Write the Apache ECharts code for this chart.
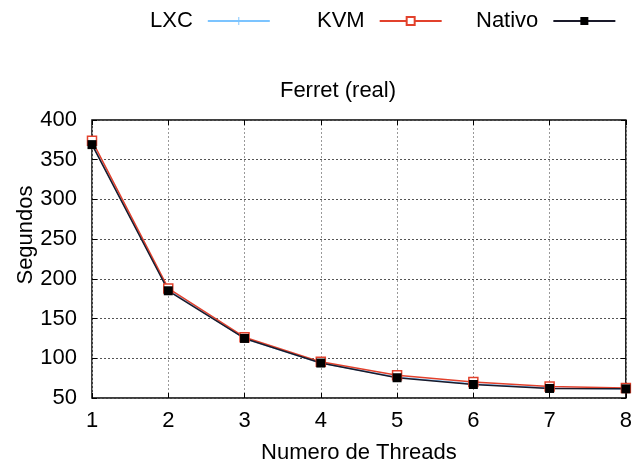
<!DOCTYPE html>
<html>
<head>
<meta charset="utf-8">
<style>
  html, body { margin: 0; padding: 0; background: #fff; }
  #chart { width: 635px; height: 469px; }
</style>
<script src="https://cdn.jsdelivr.net/npm/echarts@6/dist/echarts.min.js"></script>
</head>
<body>
<div id="chart"></div>
<script>
// Ferret benchmark runtime (seconds) by number of threads
const threads = [1, 2, 3, 4, 5, 6, 7, 8];
const lxc    = [370, 186, 125, 94, 76, 67.5, 62.5, 61.5];
const kvm    = [374, 188, 126.5, 95.5, 78.5, 70, 64.5, 62.5];
const nativo = [369, 185, 125, 94, 75.5, 67, 62, 61.5];
const yTicks = { min: 50, max: 400, step: 50 };
const seriesNames = ['LXC', 'KVM', 'Nativo'];

const FONT = 'Liberation Sans, Arial, Helvetica, sans-serif';
const plus = 'path://M4.4,0H5.6V4.4H10V5.6H5.6V10H4.4V5.6H0V4.4H4.4Z';

const pairs = vals => threads.map((t, i) => [t, vals[i]]);

const chart = echarts.init(document.getElementById('chart'), null, { renderer: 'canvas' });

const axisCommon = {
  axisLine: { show: false },
  axisTick: { show: true, inside: true, length: 5, lineStyle: { color: '#000', width: 1 } },
  splitLine: { show: false }
};

// one legend block per series, laid out in fixed columns
const legendLefts = [150, 317, 476];
const legends = seriesNames.map((name, i) => ({
  top: 10, left: legendLefts[i], padding: 0,
  align: 'right',
  itemWidth: 62, itemHeight: 10,
  textStyle: { fontFamily: FONT, fontSize: 22, color: '#000', padding: [0, 10, 0, 0] },
  data: [name]
}));

chart.setOption({
  animation: false,
  backgroundColor: '#fff',
  title: {
    text: 'Ferret (real)',
    left: 333, top: 75, textAlign: 'center',
    textStyle: { fontFamily: FONT, fontSize: 22, fontWeight: 'normal', color: '#000' }
  },
  legend: legends,
  grid: {
    left: 92, right: 3, top: 120, bottom: 70,
    show: true, borderColor: '#000', borderWidth: 1.5, backgroundColor: 'transparent'
  },
  xAxis: [{
    type: 'value', min: 1, max: 8, interval: 1,
    name: 'Numero de Threads', nameLocation: 'middle', nameGap: 44,
    nameTextStyle: { fontFamily: FONT, fontSize: 22, color: '#000' },
    axisLabel: { fontFamily: FONT, fontSize: 22, color: '#000', margin: 12 },
    axisLine: { show: false },
    axisTick: { show: true, inside: true, length: 5, lineStyle: { color: '#000' } },
    splitLine: { show: true, lineStyle: { type: [2, 2], color: '#999', width: 1 } }
  }, Object.assign({
    type: 'value', min: 1, max: 8, interval: 1, position: 'top',
    axisLabel: { show: false }
  }, axisCommon)],
  yAxis: [{
    type: 'value', min: yTicks.min, max: yTicks.max, interval: yTicks.step,
    axisLabel: { fontFamily: FONT, fontSize: 22, color: '#000', margin: 15 },
    axisLine: { show: false },
    axisTick: { show: true, inside: true, length: 5, lineStyle: { color: '#000' } },
    splitLine: { show: true, lineStyle: { type: [2, 2], color: '#555', width: 1 } }
  }, Object.assign({
    type: 'value', min: yTicks.min, max: yTicks.max, interval: yTicks.step, position: 'right',
    axisLabel: { show: false }
  }, axisCommon)],
  graphic: [{
    type: 'text',
    x: 26, y: 235, rotation: Math.PI / 2,
    style: {
      text: 'Segundos', fontFamily: FONT, fontSize: 22, fill: '#000',
      align: 'center', verticalAlign: 'middle'
    }
  }],
  series: [
    {
      name: 'LXC', type: 'line', data: pairs(lxc),
      symbol: plus, symbolSize: 8,
      lineStyle: { color: '#7cc4ff', width: 1.5 },
      itemStyle: { color: '#7cc4ff' }
    },
    {
      name: 'KVM', type: 'line', data: pairs(kvm),
      symbol: 'rect', symbolSize: 9,
      lineStyle: { color: '#e2412c', width: 1.5 },
      itemStyle: { color: '#fff', borderColor: '#e2412c', borderWidth: 1.5 }
    },
    {
      name: 'Nativo', type: 'line', data: pairs(nativo),
      symbol: 'rect', symbolSize: 9,
      lineStyle: { color: '#1a1a2a', width: 1.5 },
      itemStyle: { color: '#000' }
    }
  ]
});
</script>
</body>
</html>
